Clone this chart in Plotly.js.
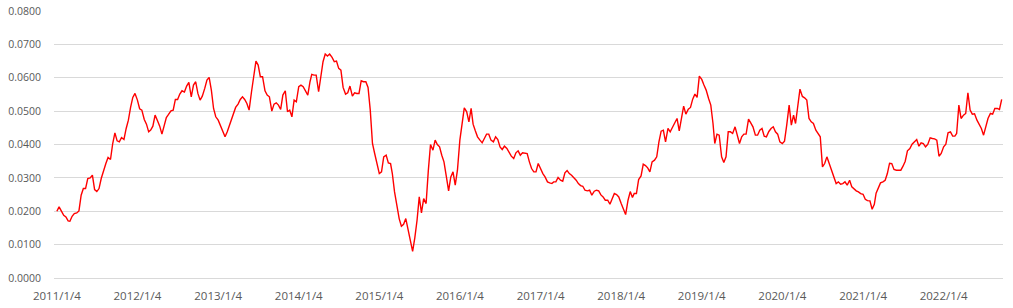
<!DOCTYPE html>
<html>
<head>
<meta charset="utf-8">
<script src="https://cdn.plot.ly/plotly-3.0.1.min.js"></script>
<style>html,body{margin:0;padding:0;background:#fff;}#chart{width:1013px;height:308px;}</style>
</head>
<body>
<div id="chart"></div>
<script>
const sampleDays = [4, 14, 24];
const years = [2011, 2012, 2013, 2014, 2015, 2016, 2017, 2018, 2019, 2020, 2021, 2022];

const v2011 = [0.0200,0.0213,0.0201, 0.0188,0.0183,0.0171, 0.0170,0.0185,0.0193, 0.0195,0.0201,0.0248,
               0.0268,0.0268,0.0298, 0.0300,0.0308,0.0265, 0.0259,0.0268,0.0298, 0.0325,0.0343,0.0361,
               0.0355,0.0403,0.0435, 0.0411,0.0408,0.0421, 0.0415,0.0448,0.0473, 0.0511,0.0541,0.0553];
const v2012 = [0.0533,0.0507,0.0503, 0.0475,0.0461,0.0438, 0.0443,0.0455,0.0488, 0.0471,0.0455,0.0431,
               0.0458,0.0481,0.0490, 0.0501,0.0503,0.0535, 0.0535,0.0551,0.0561, 0.0557,0.0575,0.0586,
               0.0543,0.0578,0.0588, 0.0553,0.0533,0.0545, 0.0568,0.0593,0.0601, 0.0563,0.0508,0.0483];
const v2013 = [0.0473,0.0458,0.0443, 0.0423,0.0438,0.0458, 0.0475,0.0488,0.0511, 0.0521,0.0535,0.0543,
               0.0535,0.0523,0.0503, 0.0558,0.0608,0.0650, 0.0638,0.0603,0.0603, 0.0561,0.0548,0.0543,
               0.0500,0.0521,0.0525, 0.0518,0.0505,0.0548, 0.0561,0.0498,0.0503, 0.0483,0.0533,0.0528];
const v2014 = [0.0573,0.0578,0.0573, 0.0558,0.0548,0.0588, 0.0610,0.0608,0.0608, 0.0558,0.0608,0.0648,
               0.0671,0.0665,0.0671, 0.0661,0.0648,0.0650, 0.0628,0.0623,0.0571, 0.0551,0.0555,0.0575,
               0.0545,0.0555,0.0553, 0.0553,0.0591,0.0588, 0.0588,0.0571,0.0503, 0.0403,0.0373,0.0341];
const v2015 = [0.0313,0.0318,0.0363, 0.0368,0.0345,0.0343, 0.0313,0.0258,0.0218, 0.0178,0.0155,0.0161,
               0.0178,0.0145,0.0113, 0.0080,0.0121,0.0173, 0.0243,0.0195,0.0238, 0.0223,0.0321,0.0400,
               0.0383,0.0413,0.0400, 0.0393,0.0368,0.0348, 0.0303,0.0261,0.0303, 0.0318,0.0278,0.0323];
const v2016 = [0.0413,0.0455,0.0510, 0.0498,0.0468,0.0508, 0.0461,0.0441,0.0423, 0.0413,0.0405,0.0418,
               0.0431,0.0431,0.0413, 0.0408,0.0423,0.0415, 0.0393,0.0385,0.0395, 0.0388,0.0377,0.0365,
               0.0358,0.0375,0.0381, 0.0368,0.0375,0.0375, 0.0373,0.0348,0.0328, 0.0318,0.0318,0.0343];
const v2017 = [0.0325,0.0313,0.0303, 0.0288,0.0285,0.0283, 0.0288,0.0288,0.0301, 0.0293,0.0290,0.0315,
               0.0322,0.0313,0.0308, 0.0301,0.0293,0.0283, 0.0277,0.0275,0.0263, 0.0261,0.0263,0.0248,
               0.0260,0.0263,0.0261, 0.0249,0.0243,0.0233, 0.0233,0.0221,0.0238, 0.0253,0.0250,0.0243];
const v2018 = [0.0223,0.0206,0.0190, 0.0233,0.0259,0.0241, 0.0253,0.0253,0.0295, 0.0306,0.0341,0.0337,
               0.0330,0.0318,0.0348, 0.0353,0.0363,0.0408, 0.0440,0.0443,0.0408, 0.0448,0.0438,0.0451,
               0.0463,0.0478,0.0441, 0.0483,0.0515,0.0491, 0.0506,0.0511,0.0536, 0.0551,0.0541,0.0605];
const v2019 = [0.0595,0.0578,0.0563, 0.0538,0.0518,0.0463, 0.0403,0.0431,0.0428, 0.0363,0.0346,0.0363,
               0.0438,0.0438,0.0433, 0.0453,0.0423,0.0403, 0.0423,0.0431,0.0431, 0.0476,0.0465,0.0453,
               0.0428,0.0428,0.0443, 0.0448,0.0425,0.0423, 0.0439,0.0448,0.0453, 0.0438,0.0431,0.0408];
const v2020 = [0.0403,0.0410,0.0458, 0.0518,0.0458,0.0488, 0.0463,0.0518,0.0566, 0.0544,0.0540,0.0533,
               0.0478,0.0468,0.0463, 0.0443,0.0433,0.0423, 0.0333,0.0343,0.0363, 0.0341,0.0328,0.0308,
               0.0283,0.0288,0.0281, 0.0283,0.0288,0.0278, 0.0293,0.0273,0.0266, 0.0261,0.0258,0.0253];
const v2021 = [0.0251,0.0236,0.0232, 0.0231,0.0206,0.0221, 0.0254,0.0271,0.0285, 0.0288,0.0293,0.0313,
               0.0344,0.0343,0.0325, 0.0323,0.0323,0.0323, 0.0335,0.0350,0.0381, 0.0388,0.0401,0.0408,
               0.0415,0.0395,0.0405, 0.0403,0.0393,0.0400, 0.0420,0.0418,0.0417, 0.0413,0.0365,0.0373];
const v2022 = [0.0393,0.0401,0.0435, 0.0438,0.0425,0.0425, 0.0433,0.0518,0.0478, 0.0488,0.0493,0.0555,
               0.0503,0.0491,0.0492, 0.0473,0.0460,0.0448, 0.0428,0.0458,0.0478, 0.0493,0.0491,0.0508,
               0.0508,0.0505,0.0535];

const yearValues = [v2011, v2012, v2013, v2014, v2015, v2016, v2017, v2018, v2019, v2020, v2021, v2022];

const tickDates  = ['2011-01-04','2012-01-04','2013-01-04','2014-01-04','2015-01-04','2016-01-04',
                    '2017-01-04','2018-01-04','2019-01-04','2020-01-04','2021-01-04','2022-01-04'];
const tickLabels = ['2011/1/4','2012/1/4','2013/1/4','2014/1/4','2015/1/4','2016/1/4',
                    '2017/1/4','2018/1/4','2019/1/4','2020/1/4','2021/1/4','2022/1/4'];
const yTicks = [0, 0.01, 0.02, 0.03, 0.04, 0.05, 0.06, 0.07, 0.08];

// build the date/value table
const xs = [], ys = [];
years.forEach((yr, i) => {
  yearValues[i].forEach((val, j) => {
    const m = Math.floor(j / 3) + 1;
    const d = sampleDays[j % 3];
    xs.push(yr + '-' + String(m).padStart(2, '0') + '-' + String(d).padStart(2, '0'));
    ys.push(val);
  });
});

const trace = {
  x: xs, y: ys, type: 'scatter', mode: 'lines',
  line: {color: '#FF0000', width: 1.4},
  hoverinfo: 'skip'
};

const layout = {
  width: 1013, height: 308,
  margin: {l: 54, r: 10, t: 11, b: 30},
  paper_bgcolor: '#ffffff', plot_bgcolor: '#ffffff',
  showlegend: false,
  font: {family: 'Open Sans, Liberation Sans, sans-serif', color: '#595959', size: 11},
  xaxis: {
    type: 'date',
    range: ['2010-12-22', '2022-09-30'],
    tickmode: 'array', tickvals: tickDates, ticktext: tickLabels,
    showgrid: false, zeroline: false,
    showline: true, linecolor: '#d9d9d9', linewidth: 1,
    ticks: '', tickfont: {size: 11.5, color: '#595959'},
    ticklabelstandoff: 7
  },
  yaxis: {
    range: [0, 0.08],
    tickmode: 'array', tickvals: yTicks,
    tickformat: '.4f',
    showgrid: true, gridcolor: '#d9d9d9', gridwidth: 1,
    zeroline: false, showline: false,
    ticks: '', tickfont: {size: 10.5, color: '#595959'},
    ticklabelstandoff: 12
  }
};

Plotly.newPlot('chart', [trace], layout, {staticPlot: true, displayModeBar: false});
</script>
</body>
</html>
